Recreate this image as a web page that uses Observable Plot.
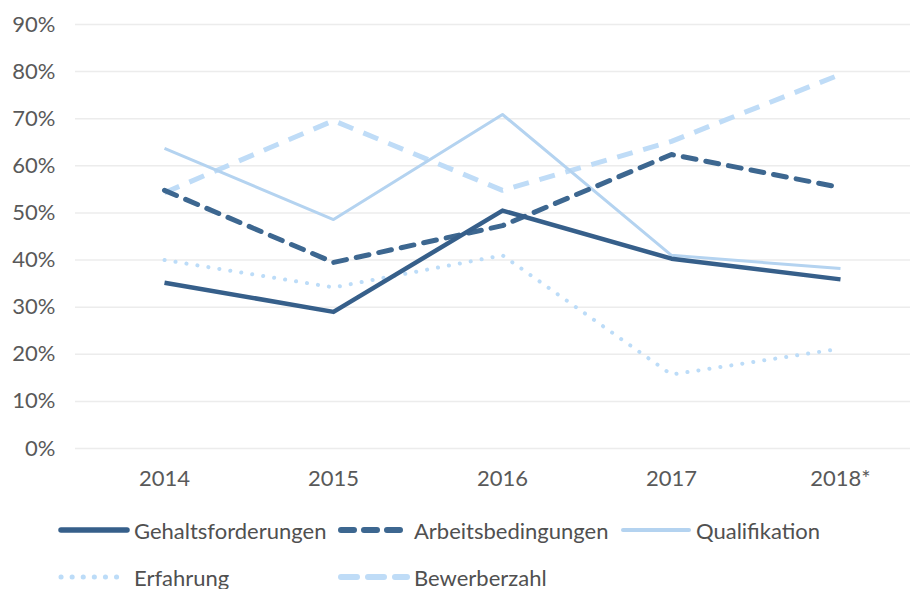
<!DOCTYPE html>
<html>
<head>
<meta charset="utf-8">
<script src="https://cdn.jsdelivr.net/npm/d3@7"></script>
<script src="https://cdn.jsdelivr.net/npm/@observablehq/plot@0.6"></script>
<style>
  body { margin: 0; background: #fff; font-family: Lato, sans-serif; }
  #chart svg { display: block; }
  .legend { position: relative; height: 94px; font-family: Lato, sans-serif; font-size: 22px; color: #505050; }
  .item { position: absolute; display: flex; align-items: center; height: 30px; }
  .item svg { margin-right: 4px; }
</style>
</head>
<body>
<div id="chart"></div>
<div class="legend" id="legend"></div>
<script>
const years = ["2014", "2015", "2016", "2017", "2018*"];
const seriesNames = ["Gehaltsforderungen", "Arbeitsbedingungen", "Qualifikation", "Erfahrung", "Bewerberzahl"];
const gehaltsforderungen = [0.352, 0.290, 0.505, 0.403, 0.359];
const arbeitsbedingungen = [0.548, 0.395, 0.473, 0.624, 0.554];
const qualifikation      = [0.637, 0.486, 0.709, 0.410, 0.382];
const erfahrung          = [0.400, 0.342, 0.410, 0.157, 0.212];
const bewerberzahl       = [0.543, 0.696, 0.548, 0.652, 0.794];
const yTicks = [0, 0.1, 0.2, 0.3, 0.4, 0.5, 0.6, 0.7, 0.8, 0.9];

const valuesBySeries = [gehaltsforderungen, arbeitsbedingungen, qualifikation, erfahrung, bewerberzahl];
const styles = [
  {color: "#365f8a", width: 4.5, dash: null, cap: "butt"},
  {color: "#3d6790", width: 5, dash: "13,10", cap: "round"},
  {color: "#b4d3f0", width: 3, dash: null, cap: "butt"},
  {color: "#bcdcf8", width: 4, dash: "0.1,11", cap: "round"},
  {color: "#bfdcf7", width: 5, dash: "16,11", cap: "butt"}
];

const data = [];
seriesNames.forEach((s, i) => years.forEach((y, j) => data.push({series: s, year: y, value: valuesBySeries[i][j]})));

// draw order: light ones first, dark on top
const order = [4, 2, 3, 1, 0];
const lineMarks = order.map(i => Plot.line(data.filter(d => d.series === seriesNames[i]), {
  x: "year", y: "value",
  stroke: styles[i].color, strokeWidth: styles[i].width,
  strokeDasharray: styles[i].dash, strokeLinecap: styles[i].cap, strokeLinejoin: "round"
}));

const chart = Plot.plot({
  width: 910, height: 495,
  marginTop: 24, marginBottom: 47, marginLeft: 75, marginRight: 0,
  style: {fontFamily: "Lato, sans-serif", fontSize: "22px", color: "#595959", background: "#fff"},
  x: {type: "point", domain: years, range: [163, 840], padding: 0, label: null},
  y: {domain: [0, 0.9], label: null},
  marks: [
    Plot.ruleY(yTicks, {stroke: "#ececec", strokeWidth: 1.5}),
    Plot.axisY({ticks: yTicks, tickFormat: d => Math.round(d * 100) + "%", tickSize: 0, tickPadding: 20, label: null, textAnchor: "end"}),
    Plot.axisX({tickSize: 0, tickPadding: 22, label: null}),
    ...lineMarks
  ]
});
document.getElementById("chart").appendChild(chart);

// legend
const legendPos = [
  {left: 58, top: 35}, {left: 338, top: 35}, {left: 620, top: 35},
  {left: 58, top: 82}, {left: 338, top: 82}
];
const legend = document.getElementById("legend");
seriesNames.forEach((s, i) => {
  const st = styles[i];
  const item = document.createElement("div");
  item.className = "item";
  item.style.left = legendPos[i].left + "px";
  item.style.top = (legendPos[i].top - 15) + "px";
  item.innerHTML = `<svg width="72" height="12"><line x1="3" y1="6" x2="69" y2="6" stroke="${st.color}" stroke-width="${st.width + 1}" ${st.dash ? `stroke-dasharray="${st.dash}"` : ""} stroke-linecap="${st.cap === "butt" ? "round" : st.cap}"/></svg><span>${s}</span>`;
  legend.appendChild(item);
});
</script>
</body>
</html>
